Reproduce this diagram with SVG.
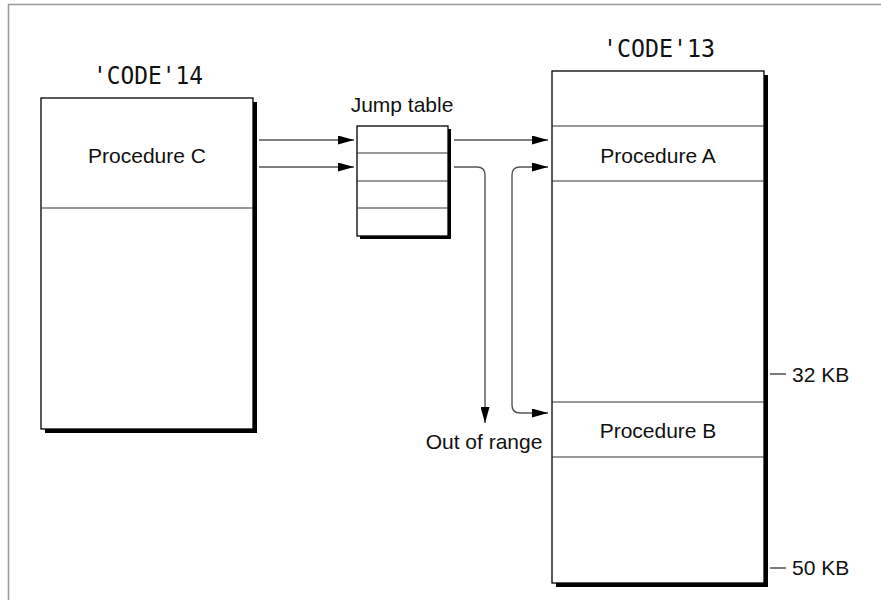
<svg xmlns="http://www.w3.org/2000/svg" width="881" height="600" viewBox="0 0 881 600">
<defs>
<marker id="arr" markerWidth="16" markerHeight="9" refX="16" refY="4.5" orient="auto" markerUnits="userSpaceOnUse">
<path d="M0,0 L16,4.5 L0,9 Z" fill="#000"/>
</marker>
<style>
.box{fill:#fff;stroke:#000;stroke-width:1.3}
.shadow{fill:#000}
.div{stroke:#333;stroke-width:1.2;fill:none}
.lbl{font-family:"Liberation Sans",Arial,sans-serif;font-size:21px;fill:#111;text-anchor:middle}
.tick{font-family:"Liberation Sans",Arial,sans-serif;font-size:21px;fill:#111}
.code{font-family:"DejaVu Sans Mono","Liberation Mono",monospace;font-size:24px;fill:#111}
.con{stroke:#555;stroke-width:1.4;fill:none}
</style>
</defs>
<rect width="881" height="600" fill="#fff"/>
<path d="M8.5,600 V4.5 H881" fill="none" stroke="#999" stroke-width="1.5"/>

<g id="code14">
<rect class="shadow" x="45" y="102" width="212" height="331"/>
<rect class="box" x="41" y="98" width="212" height="331"/>
<line class="div" x1="41" y1="208" x2="253" y2="208"/>
<text class="code" x="93" y="84" textLength="110" lengthAdjust="spacingAndGlyphs">'CODE'14</text>
<text class="lbl" x="147" y="163">Procedure C</text>
</g>

<g id="jumptable">
<rect class="shadow" x="360" y="129" width="91" height="110"/>
<rect class="box" x="357" y="126" width="91" height="110"/>
<line class="div" x1="357" y1="153" x2="448" y2="153"/>
<line class="div" x1="357" y1="181" x2="448" y2="181"/>
<line class="div" x1="357" y1="208" x2="448" y2="208"/>
<text class="lbl" x="402" y="112">Jump table</text>
</g>

<g id="code13">
<rect class="shadow" x="556" y="75" width="212" height="512"/>
<rect class="box" x="552" y="71" width="212" height="512"/>
<line class="div" x1="552" y1="126" x2="764" y2="126"/>
<line class="div" x1="552" y1="181" x2="764" y2="181"/>
<line class="div" x1="552" y1="402" x2="764" y2="402"/>
<line class="div" x1="552" y1="457" x2="764" y2="457"/>
<text class="code" x="603" y="57" textLength="112" lengthAdjust="spacingAndGlyphs">'CODE'13</text>
<text class="lbl" x="658" y="163">Procedure A</text>
<text class="lbl" x="658" y="438">Procedure B</text>
</g>

<g id="marks">
<line x1="770" y1="374" x2="786" y2="374" stroke="#222" stroke-width="1.2"/>
<text class="tick" x="792" y="382">32 KB</text>
<line x1="770" y1="568" x2="786" y2="568" stroke="#222" stroke-width="1.2"/>
<text class="tick" x="792" y="575">50 KB</text>
</g>

<g id="outofrange">
<text class="lbl" x="484" y="449">Out of range</text>
</g>

<g id="connectors">
<line class="con" x1="259" y1="140" x2="354" y2="140" marker-end="url(#arr)"/>
<line class="con" x1="259" y1="167" x2="354" y2="167" marker-end="url(#arr)"/>
<line class="con" x1="454" y1="140" x2="548" y2="140" marker-end="url(#arr)"/>
<path class="con" d="M454,167 H477 Q485,167 485,175 V423" marker-end="url(#arr)"/>
<path class="con" d="M512,290 V175 Q512,167 520,167 H548" marker-end="url(#arr)"/>
<path class="con" d="M512,290 V405 Q512,413 520,413 H548" marker-end="url(#arr)"/>
</g>
</svg>
